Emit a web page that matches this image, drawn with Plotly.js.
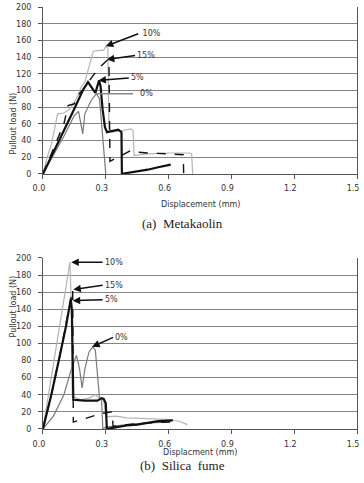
<!DOCTYPE html>
<html><head><meta charset="utf-8">
<script src="https://cdn.plot.ly/plotly-3.0.1.min.js"></script>
<style>html,body{margin:0;padding:0;background:#fff}#c{width:364px;height:483px}</style>
</head><body><div id="c"></div>
<script>
// ---- (a) Metakaolin ----
const mk0x = [0,0.05,0.10,0.15,0.17,0.19,0.20,0.23,0.255,0.27,0.28,0.29,0.30];
const mk0y = [0,22,45,70,75,48,72,88,96,90,60,20,0];
const mk5x = [0,0.05,0.10,0.15,0.19,0.215,0.25,0.268,0.275,0.285,0.296,0.306,0.33,0.36,0.375,0.377,0.40,0.45,0.50,0.55,0.61];
const mk5y = [0,25,52,78,100,110,97,112,105,77,56,50,51,53,50,0,1,3,5,8,11];
const mk10x = [0,0.02,0.04,0.06,0.07,0.10,0.13,0.16,0.18,0.20,0.22,0.24,0.27,0.29,0.30,0.31,0.315,0.33,0.38,0.42,0.43,0.435,0.50,0.60,0.70,0.71,0.715];
const mk10y = [0,20,35,60,72,73,78,90,103,110,130,147,148,148,153,150,55,50,52,54,52,22,24,25,25,24,0];
const mk15x = [0,0.05,0.10,0.12,0.15,0.17,0.20,0.24,0.28,0.31,0.315,0.32,0.37,0.42,0.45,0.50,0.60,0.67,0.672];
const mk15y = [0,30,60,82,84,95,104,118,130,137,137,15,22,28,26,25,24,23,0];
// ---- (b) Silica fume ----
const sf0x = [0,0.05,0.10,0.138,0.16,0.175,0.187,0.20,0.22,0.238,0.25,0.26,0.27,0.28,0.286,0.30,0.40,0.50,0.60];
const sf0y = [0,15,40,72,86,70,48,70,90,96,92,60,37,33,0,2,5,7,8];
const sf5x = [0,0.04,0.08,0.11,0.133,0.138,0.145,0.20,0.26,0.28,0.29,0.30,0.305,0.35,0.40,0.45,0.50,0.55,0.62];
const sf5y = [0,40,85,120,152,140,34,33,33,36,35,30,0,2,4,5,7,9,10];
const sf10x = [0,0.03,0.06,0.09,0.11,0.129,0.135,0.14,0.18,0.22,0.25,0.27,0.29,0.30,0.35,0.40,0.50,0.60,0.65,0.69];
const sf10y = [0,45,90,135,170,195,150,38,34,36,40,36,35,14,15,13,12,11,9,5];
const sf15x = [0,0.04,0.08,0.12,0.14,0.142,0.145,0.20,0.25,0.28,0.33,0.335,0.40,0.50,0.60,0.62];
const sf15y = [0,40,85,135,163,163,8,12,16,18,20,3,5,7,8,8];

const labels = ['0%','5%','10%','15%'];
const sty = [
  {color:'#7a7a7a', width:1.2},
  {color:'#111', width:2.2},
  {color:'#b5b5b5', width:1.2},
  {color:'#111', width:1.4, dash:'dash'}
];
function tr(x,y,i,ax){return {x:x,y:y,type:'scatter',mode:'lines',line:sty[i],name:labels[i],xaxis:ax==2?'x2':'x',yaxis:ax==2?'y2':'y',showlegend:false,hoverinfo:'skip'};}
const data = [
  tr(mk0x,mk0y,0,1), tr(mk10x,mk10y,2,1), tr(mk15x,mk15y,3,1), tr(mk5x,mk5y,1,1),
  tr(sf0x,sf0y,0,2), tr(sf10x,sf10y,2,2), tr(sf15x,sf15y,3,2), tr(sf5x,sf5y,1,2)
];
const tickf = {family:'DejaVu Sans', size:8, color:'#333'};
function xa(dom){return {domain:[0.118,0.981], range:[0,1.5], tickvals:[0,0.3,0.6,0.9,1.2,1.5], ticktext:['0.0','0.3','0.6','0.9','1.2','1.5'], showgrid:false, zeroline:false, showline:true, linecolor:'#555', linewidth:1, ticks:'outside', ticklen:4, tickcolor:'#555', tickfont:tickf, ticklabelstandoff:3, ticklabelshift:-4, fixedrange:true};}
function ya(dom){return {domain:dom, range:[0,200], dtick:20, showgrid:true, gridcolor:'#858585', gridwidth:1, zeroline:false, showline:true, mirror:true, linecolor:'#555', linewidth:1, ticks:'outside', ticklen:4, tickcolor:'#555', tickfont:tickf, ticklabelstandoff:5, fixedrange:true};}
const xa1 = xa(); xa1.anchor='y';
const xa2 = xa(); xa2.anchor='y2';
const ya1 = ya([0.640,0.9855]); ya1.anchor='x';
const ya2 = ya([0.112,0.466]); ya2.anchor='x2';

function arr(x,y,ax,ay,t,ref,head){
  return {x:x,y:y,ax:ax,ay:ay,xref:ref[0],yref:ref[1],axref:ref[0],ayref:ref[1],text:t,showarrow:true,
    arrowhead:head===undefined?2:head,arrowsize:1,arrowwidth:1.5,arrowcolor:head===0?'#888':'#111',standoff:0,startstandoff:0,
    xanchor:'left',yanchor:'middle',font:{family:'DejaVu Sans',size:8,color:'#333'}};
}
const r1=['x','y'], r2=['x2','y2'];
const titleF = {family:'DejaVu Sans', size:8, color:'#333'};
const capF = {family:'Liberation Serif', size:13, color:'#222'};
const annotations = [
  arr(0.300,153,0.455,168,' 10%',r1),
  arr(0.305,137,0.44,142,'15%',r1),
  arr(0.265,112,0.41,115,'5%',r1),
  arr(0.255,96,0.43,96,'  0%',r1,0),
  arr(0.135,195,0.285,195,'10%',r2),
  arr(0.145,163,0.285,168,'15%',r2),
  arr(0.142,150,0.285,151,'5%',r2),
  arr(0.235,96,0.335,107,'0%',r2),
  {text:'Displacement (mm)', x:0.55, y:0.5756, xref:'paper', yref:'paper', showarrow:false, font:titleF},
  {text:'Displacment (mm)', x:0.55, y:0.0498, xref:'paper', yref:'paper', showarrow:false, font:titleF},
  {text:'(a)  Metakaolin', x:0.5, y:0.5383, xref:'paper', yref:'paper', showarrow:false, font:capF},
  {text:'(b)  Silica  fume', x:0.5, y:0.0166, xref:'paper', yref:'paper', showarrow:false, font:capF},
  {text:'Pullout load (N)', x:0.0192, y:0.8137, xref:'paper', yref:'paper', showarrow:false, textangle:-90, font:titleF},
  {text:'Pullout load (N)', x:0.0192, y:0.298, xref:'paper', yref:'paper', showarrow:false, textangle:-90, font:titleF}
];
const layout = {width:364, height:483, margin:{l:0,r:0,t:0,b:0}, paper_bgcolor:'#fff', plot_bgcolor:'#fff',
  xaxis:xa1, yaxis:ya1, xaxis2:xa2, yaxis2:ya2, annotations:annotations, showlegend:false};
Plotly.newPlot('c', data, layout, {displayModeBar:false, staticPlot:true});
</script></body></html>
